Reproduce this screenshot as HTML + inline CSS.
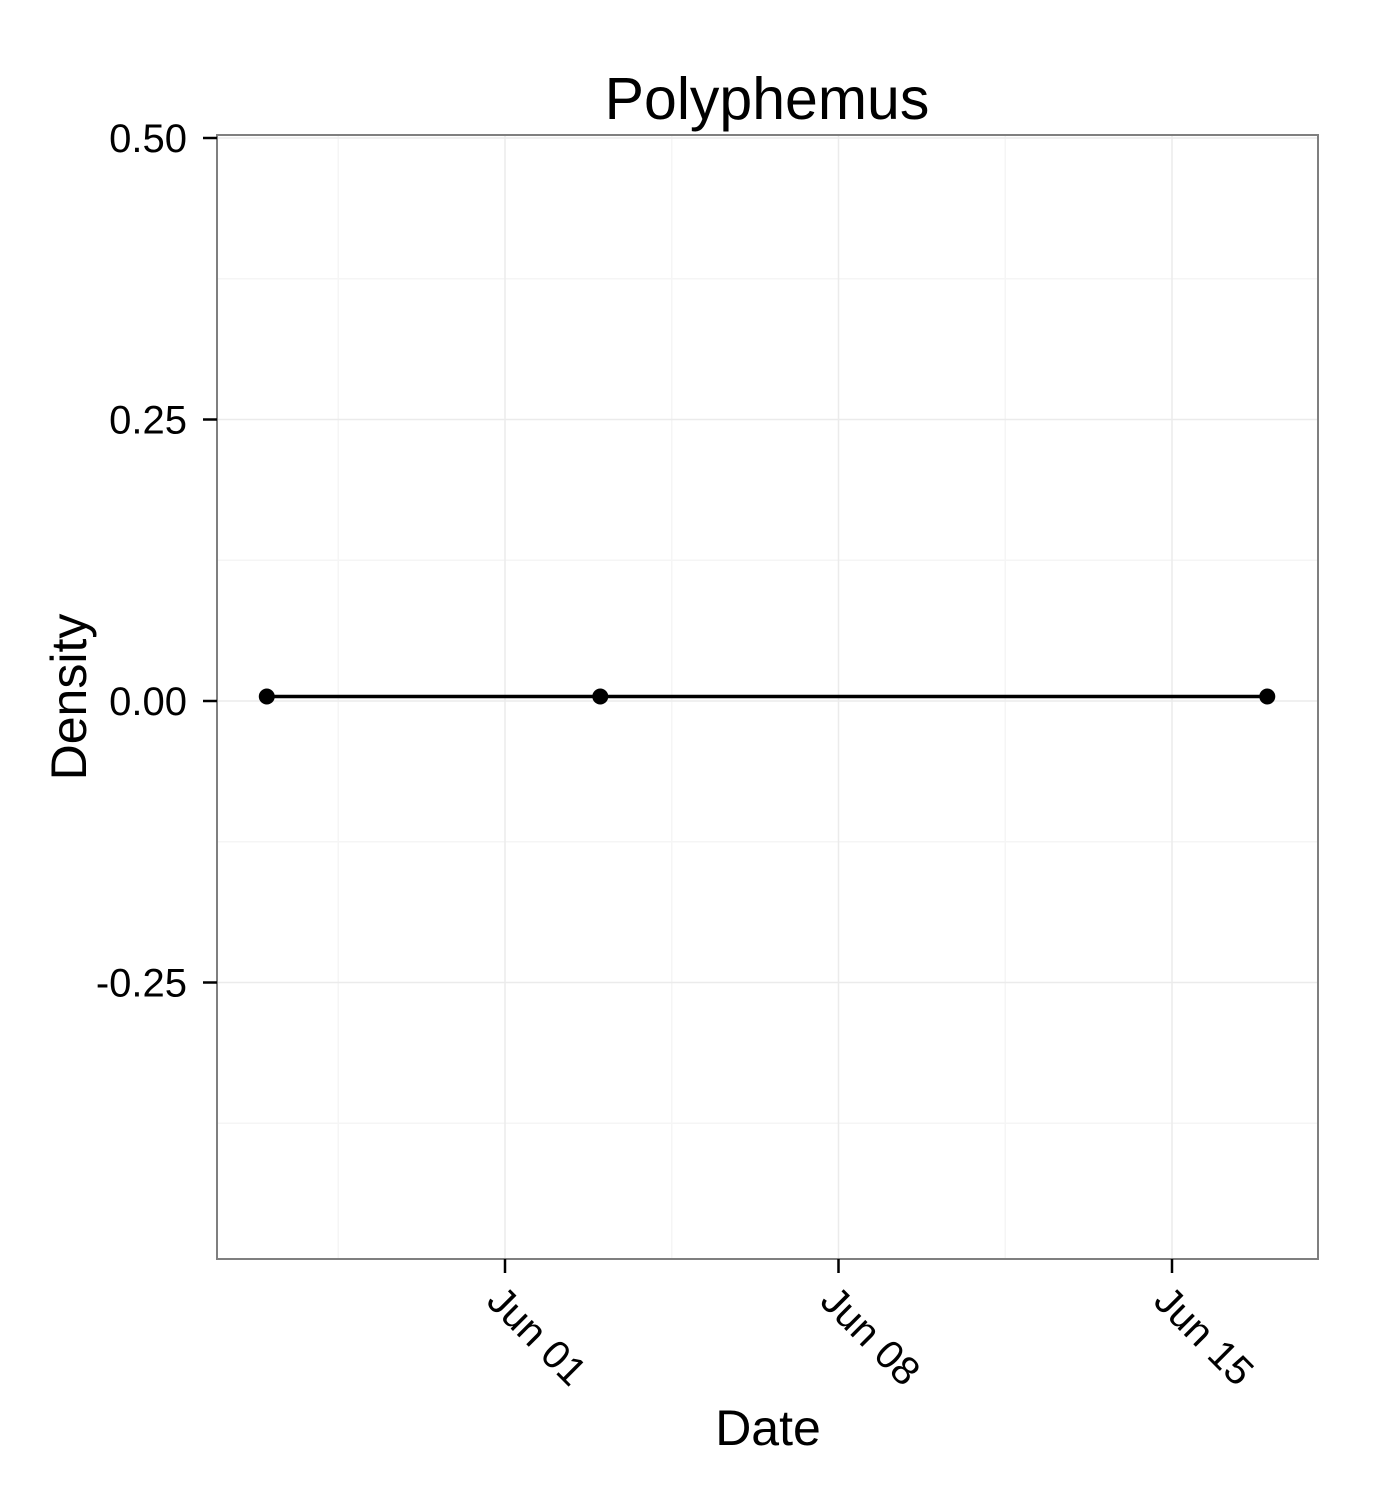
<!DOCTYPE html>
<html><head><meta charset="utf-8"><style>
body{margin:0;background:#fff;}
svg text{font-family:"Liberation Sans",Arial,sans-serif;}
</style></head><body>
<svg id="chart" width="1379" height="1491" viewBox="0 0 1379 1491" xmlns="http://www.w3.org/2000/svg">
<rect x="0" y="0" width="1379" height="1491" fill="#fff"/>
<text x="767" y="119" font-size="59" text-anchor="middle">Polyphemus</text>
<g id="grid"></g>
<rect x="217" y="135" width="1101" height="1124" fill="none" stroke="#7f7f7f" stroke-width="2"/>
<g id="axes"></g>
<g id="series"></g>
<text x="768" y="1445" font-size="50" text-anchor="middle">Date</text>
<text transform="translate(86,697) rotate(-90)" font-size="50" text-anchor="middle">Density</text>
</svg>
<script>
const dayOffsets=[-5,2,16]; // days relative to Jun 01
const densities=[0.004,0.004,0.004];
const yTicks=[0.5,0.25,0,-0.25];
const yTickLabels=["0.50","0.25","0.00","-0.25"];
const yMinor=[0.375,0.125,-0.125,-0.375];
const xTicks=[0,7,14];
const xTickLabels=["Jun 01","Jun 08","Jun 15"];
const xMinor=[-3.5,3.5,10.5];

const NS="http://www.w3.org/2000/svg";
const X0=217,X1=1318,Y0=135,Y1=1259;
function xs(d){return 505+d*(333.5/7);}
function ys(v){return 701-v*1126;}
function mk(t,a,p){const e=document.createElementNS(NS,t);for(const k in a)e.setAttribute(k,a[k]);p.appendChild(e);return e;}
const grid=document.getElementById('grid'),axes=document.getElementById('axes'),series=document.getElementById('series');
yMinor.forEach(v=>{const l=mk('line',{x1:X0,x2:X1,y1:ys(v),y2:ys(v),stroke:'#f5f5f5','stroke-width':1.5},grid);

});
xMinor.forEach(d=>{const l=mk('line',{x1:xs(d),x2:xs(d),y1:Y0,y2:Y1,stroke:'#f5f5f5','stroke-width':1.5},grid);

});
yTicks.forEach((v,i)=>{const y=ys(v);
const g=mk('line',{x1:X0,x2:X1,y1:y,y2:y,stroke:'#ebebeb','stroke-width':1.5},grid);


const t=mk('line',{x1:X0-14,x2:X0,y1:y,y2:y,stroke:'#000','stroke-width':2.5},axes);


const tx=mk('text',{x:X0-30,y:y+14,'font-size':40,'text-anchor':'end'},axes);tx.textContent=yTickLabels[i];

});
xTicks.forEach((d,i)=>{const x=xs(d);
const g=mk('line',{x1:x,x2:x,y1:Y0,y2:Y1,stroke:'#ebebeb','stroke-width':1.5},grid);


const t=mk('line',{x1:x,x2:x,y1:Y1,y2:Y1+14,stroke:'#000','stroke-width':2.5},axes);


const tx=mk('text',{transform:`translate(${x-20},${Y1+44}) rotate(45)`,'font-size':40},axes);tx.textContent=xTickLabels[i];

});
const pts=dayOffsets.map((d,i)=>xs(d)+','+ys(densities[i])).join(' ');
const pl=mk('polyline',{points:pts,fill:'none',stroke:'#000','stroke-width':3.5},series);


dayOffsets.forEach((d,i)=>{const c=mk('circle',{cx:xs(d),cy:ys(densities[i]),r:8,fill:'#000'},series);

});
</script>
</body></html>
